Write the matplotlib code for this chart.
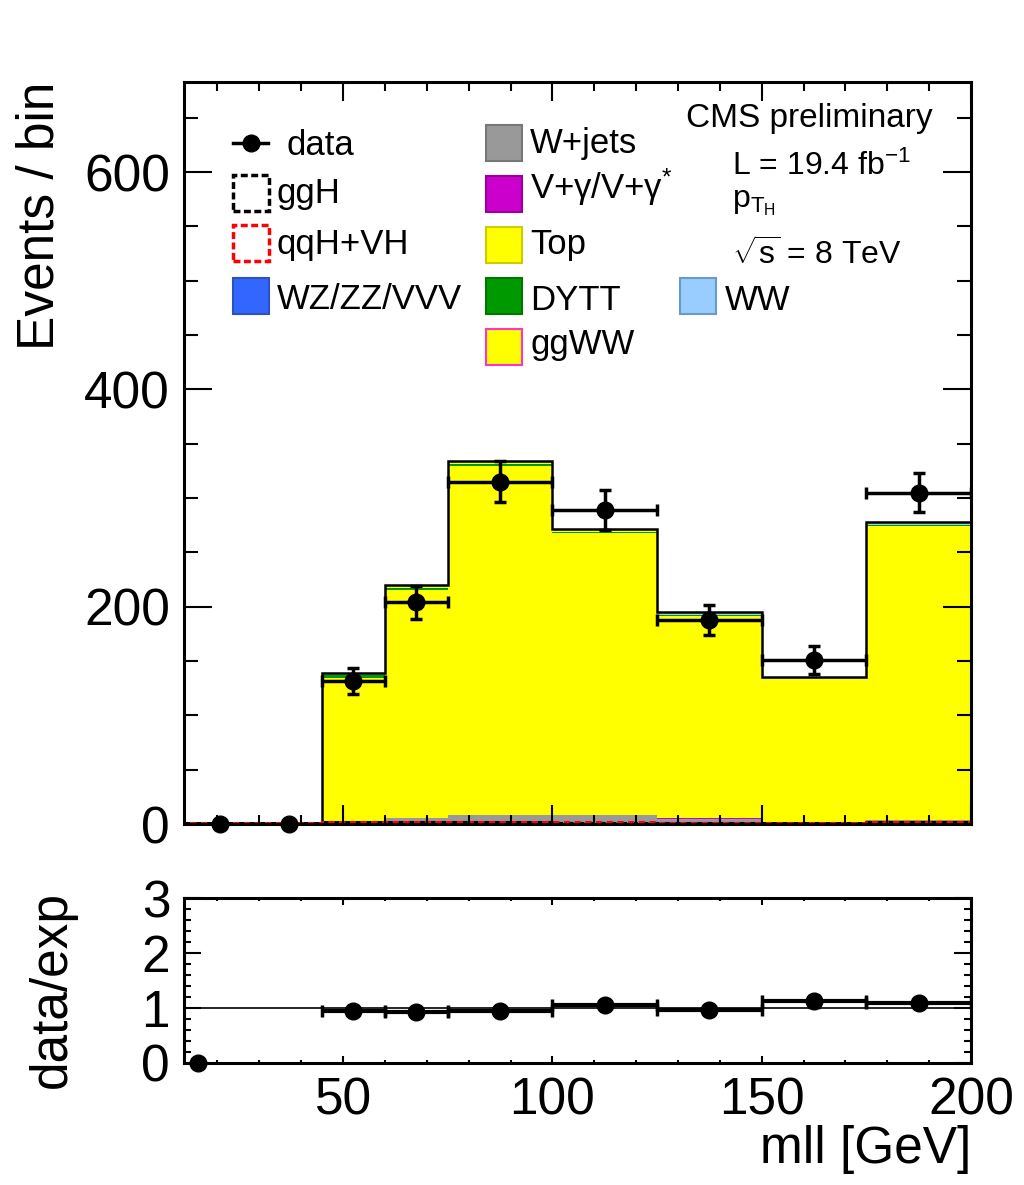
import matplotlib
matplotlib.use("Agg")
import numpy as np
import matplotlib.pyplot as plt
from matplotlib.patches import Rectangle
from matplotlib.lines import Line2D
from matplotlib.ticker import MultipleLocator

plt.rcParams['font.family'] = ['Liberation Sans', 'DejaVu Sans']
plt.rcParams['mathtext.fontset'] = 'custom'
plt.rcParams['mathtext.rm'] = 'Liberation Sans'
plt.rcParams['mathtext.it'] = 'Liberation Sans:italic'
plt.rcParams['mathtext.default'] = 'regular'

# ---------------- data ----------------
edges = [12, 30, 45, 60, 75, 100, 125, 150, 175, 200]
data_x = [20.7, 37.1, 52.3, 67.5, 87.5, 112.5, 137.5, 162.5, 187.5]
data_y = [0, 0, 132, 204, 315, 289, 188, 151, 305]
data_err = [0, 0, 12, 15, 19, 18, 14, 13, 18]

# stacked backgrounds (bottom -> top)
wz_vvv = [0, 0, 0.5, 0.8, 1.0, 0.8, 0.5, 0.4, 0.8]
wjets = [0, 0, 2.0, 4.5, 7.5, 7.5, 4.5, 1.0, 3.0]
vgamma = [0, 0, 0.0, 0.1, 0.1, 0.1, 0.1, 0.0, 0.1]
top = [0, 0, 131.8, 210.2, 321.2, 259.2, 186.1, 131.1, 270.1]
dytt = [0, 0, 2.5, 2.0, 1.5, 1.5, 1.0, 0.5, 1.0]
ggww = [0, 0, 0.5, 0.8, 1.0, 0.8, 0.5, 0.4, 0.6]
ww = [0, 0, 1.5, 2.0, 2.0, 2.0, 2.0, 1.5, 2.0]

# signals (overlaid, not stacked)
ggh = [1.0, 1.0, 1.5, 1.5, 1.5, 1.2, 1.0, 1.0, 1.5]
qqh_vh = [1.2, 1.2, 1.5, 1.5, 1.5, 1.5, 1.2, 1.2, 1.5]

# extra zero-ratio point in lower panel
ratio_zero_x = [15.3]
ratio_zero_y = [0]

# ---------------- figure ----------------
W, H = 1024, 1185
fig = plt.figure(figsize=(W / 100, H / 100), dpi=100)

L_px, R_px = 184, 971
T1, B1 = 82, 824
T2, B2 = 898, 1063
ax = fig.add_axes([L_px / W, 1 - B1 / H, (R_px - L_px) / W, (B1 - T1) / H])
ax2 = fig.add_axes([L_px / W, 1 - B2 / H, (R_px - L_px) / W, (B2 - T2) / H])

stack_defs = [
    ("WZ/ZZ/VVV", wz_vvv, "#3366ff", "#2a52be"),
    ("W+jets", wjets, "#999999", "#777777"),
    (r"V+$\gamma$/V+$\gamma^{*}$", vgamma, "#cc00cc", "#990099"),
    ("Top", top, "#ffff00", "#cccc00"),
    ("DYTT", dytt, "#009900", "#007700"),
    ("ggWW", ggww, "#ffff00", "#ff33cc"),
    ("WW", ww, "#99ccff", "#6699cc"),
]

base = np.zeros(len(edges) - 1)
for name, vals, fc, ec in stack_defs:
    v = np.asarray(vals, dtype=float)
    ax.stairs(base + v, edges, baseline=base.copy(), fill=True,
              facecolor=fc, edgecolor=fc, lw=0)
    base = base + v
total = base
ax.stairs(total, edges, baseline=0, color="black", lw=1.8)

# signal lines
ax.stairs(ggh, edges, baseline=None, color="black", lw=2.2, linestyle=(0, (2, 1.5)))
ax.stairs(qqh_vh, edges, baseline=None, color="red", lw=2.2, linestyle=(1.5, (2, 1.5)))

# data
dx = np.asarray(data_x)
dy = np.asarray(data_y, dtype=float)
de = np.asarray(data_err, dtype=float)
ed = np.asarray(edges, dtype=float)
xlo = dx - ed[:-1]
xhi = ed[1:] - dx
has = dy > 0
ax.errorbar(dx[has], dy[has], yerr=de[has], xerr=[xlo[has], xhi[has]],
            fmt='o', color='black', ms=12, lw=2.5, capsize=4, capthick=2.5,
            zorder=10)
ax.plot(dx[~has], dy[~has], 'o', color='black', ms=12, zorder=10, clip_on=False)

ax.set_xlim(12, 200)
ax.set_ylim(0, 683)
ax.xaxis.set_major_locator(MultipleLocator(50))
ax.xaxis.set_minor_locator(MultipleLocator(10))
ax.yaxis.set_major_locator(MultipleLocator(200))
ax.yaxis.set_minor_locator(MultipleLocator(50))
ax.tick_params(which='both', direction='in', top=True, right=True, width=1.5,
               labelbottom=False, labelsize=37)
ax.tick_params(axis='y', which='major', length=20, pad=10)
ax.tick_params(axis='y', which='minor', length=10)
ax.tick_params(axis='x', which='major', length=14)
ax.tick_params(axis='x', which='minor', length=6.5)
for s in ax.spines.values():
    s.set_linewidth(2.2)

ax.set_ylabel("Events / bin", fontsize=37)
ax.yaxis.label.set(rotation_mode='default', ha='center', va='top')
ax.yaxis.set_label_coords((40 - L_px) / (R_px - L_px), 1.0)

# ---------------- legend (manual, in axes coords) ----------------
AW = R_px - L_px
AH = B1 - T1

def axc(px, py):
    return ((px - L_px) / AW, (B1 - py) / AH)

box_w = 36 / AW
box_h = 36 / AH
FS_LEG = 25

def box(px_left, py_center, fc, ec, ls='-', fill=True):
    x, y = axc(px_left, py_center + 18)
    ax.add_patch(Rectangle((x, y), box_w, box_h, transform=ax.transAxes,
                           facecolor=fc if fill else 'none', edgecolor=ec,
                           lw=1.5 if fill else 2.5, linestyle=ls, fill=fill,
                           zorder=20, clip_on=False))

def label(px, py_base, txt):
    x, y = axc(px, py_base)
    ax.text(x, y, txt, transform=ax.transAxes, fontsize=FS_LEG,
            ha='left', va='baseline', zorder=20)

# column 1
x0, y0 = axc(233, 143)
x1, _ = axc(268, 143)
ax.add_line(Line2D([x0, x1], [y0, y0], transform=ax.transAxes, color='black', lw=2.5, zorder=20))
xm, _ = axc(251, 143)
ax.add_line(Line2D([xm], [y0], transform=ax.transAxes, marker='o', ms=12, color='black', zorder=21))
label(286, 155, "data")
box(233, 193, 'none', 'black', ls=(0, (2, 1)), fill=False)
label(277, 203, "ggH")
box(233, 243, 'none', 'red', ls=(0, (2, 1)), fill=False)
label(277, 254, "qqH+VH")
box(233, 296, "#3366ff", "#2a52be")
label(277, 309, "WZ/ZZ/VVV")

# column 2
box(486, 143, "#999999", "#777777")
label(530, 153, "W+jets")
box(486, 194, "#cc00cc", "#990099")
label(530, 199, r"V+$\gamma$/V+$\gamma^{*}$")
box(486, 245, "#ffff00", "#cccc00")
label(530, 254, "Top")
box(486, 296, "#009900", "#007700")
label(530, 310, "DYTT")
box(486, 347, "#ffff00", "#ff33cc")
label(530, 354, "ggWW")

# column 3
box(680, 296, "#99ccff", "#6699cc")
label(725, 310, "WW")

# annotations
def ann(px, py_base, txt, fs=23):
    x, y = axc(px, py_base)
    ax.text(x, y, txt, transform=ax.transAxes, fontsize=fs, ha='left', va='baseline', zorder=20)

ann(686, 127, "CMS preliminary", fs=24)
ann(732, 175, r"L = 19.4 fb$^{-1}$")
ann(732, 207, r"p$_{T_{H}}$")
ann(732, 265, r"$\sqrt{s}$ = 8 TeV")

# ---------------- ratio panel ----------------
ratio = np.zeros_like(dy)
ratio_err = np.zeros_like(dy)
ok = has & (total > 0)
ratio[ok] = dy[ok] / total[ok]
ratio_err[ok] = de[ok] / total[ok]

ax2.axhline(1.0, color='black', lw=1.2, zorder=1)
ax2.errorbar(dx[ok], ratio[ok], yerr=ratio_err[ok], xerr=[xlo[ok], xhi[ok]],
             fmt='o', color='black', ms=12, lw=3.0, capsize=4, capthick=2.5, zorder=10)
ax2.plot(ratio_zero_x, ratio_zero_y, 'o', color='black', ms=12, clip_on=False, zorder=10)

ax2.set_xlim(12, 200)
ax2.set_ylim(0, 3)
ax2.xaxis.set_major_locator(MultipleLocator(50))
ax2.xaxis.set_minor_locator(MultipleLocator(10))
ax2.yaxis.set_major_locator(MultipleLocator(1))
ax2.yaxis.set_minor_locator(MultipleLocator(0.2))
ax2.tick_params(which='both', direction='in', top=True, right=True, width=1.5, labelsize=37)
ax2.tick_params(axis='y', which='major', length=12, pad=10)
ax2.tick_params(axis='y', which='minor', length=5)
ax2.tick_params(axis='x', which='major', length=5, pad=10)
ax2.tick_params(axis='x', which='minor', length=2.5)
for s in ax2.spines.values():
    s.set_linewidth(2.2)

ax2.set_ylabel("data/exp", fontsize=37)
ax2.yaxis.label.set(rotation_mode='default', ha='center', va='center')
ax2.yaxis.set_label_coords((52 - L_px) / AW, (B2 - 989) / (B2 - T2))

ax2.set_xlabel("mll [GeV]", fontsize=37)
ax2.xaxis.label.set(ha='right', va='center')
ax2.xaxis.set_label_coords(1.0, (B2 - 1150) / (B2 - T2))

fig.savefig("out.png", dpi=100)
